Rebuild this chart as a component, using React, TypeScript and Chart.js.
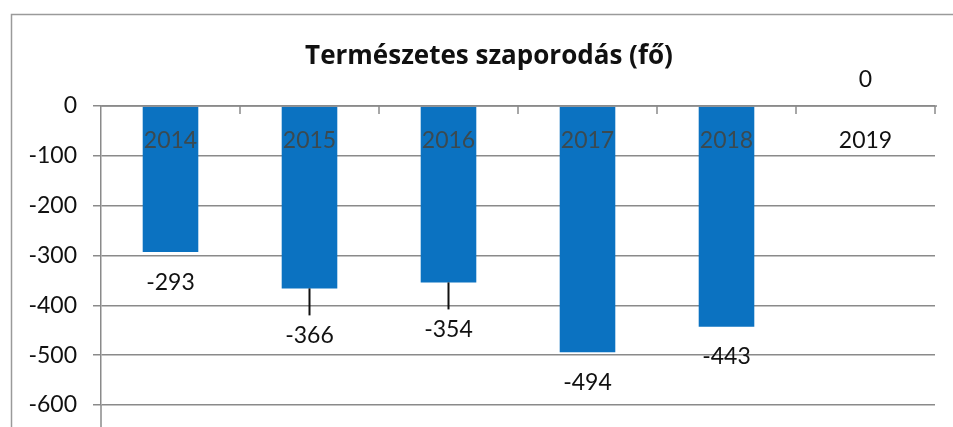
import React, { useEffect, useRef } from "react";
import { Chart, registerables } from "chart.js";

Chart.register(...registerables);

const title = "Természetes szaporodás (fő)";
const years = ["2014", "2015", "2016", "2017", "2018", "2019"];
const values = [-293, -366, -354, -494, -443, 0];
const yTicks = [0, -100, -200, -300, -400, -500, -600];

// label placement (style): baseline offset of value label from bar end, and leader line flag
const labelOffsets = [38, 55, 55, 38, 37, -19];
const leaderLines = [false, true, true, false, false, false];

const FONT = "Lato, 'Open Sans', sans-serif";
const TITLE_FONT = "'Open Sans', Lato, sans-serif";
const BAR = "#0B72C1";
const GRID = "#8a8a8a";

const overlay = {
  id: "overlay",
  beforeDraw(chart: any) {
    const { ctx, width, height } = chart;
    ctx.save();
    ctx.fillStyle = "#ffffff";
    ctx.fillRect(0, 0, width, height);
    ctx.strokeStyle = "#9a9a9a";
    ctx.lineWidth = 1.5;
    ctx.strokeRect(11.5, 14.5, width + 20, height + 20);
    // title
    ctx.fillStyle = "#111";
    ctx.font = `bold 26px ${TITLE_FONT}`;
    ctx.textAlign = "center";
    ctx.textBaseline = "alphabetic";
    ctx.fillText(title, 489, 64);
    ctx.restore();
  },
  afterDatasetsDraw(chart: any) {
    const { ctx, chartArea } = chart;
    const x = chart.scales.x;
    const y = chart.scales.y;
    const n = years.length;
    const cw = (chartArea.right - chartArea.left) / n;
    const zeroY = y.getPixelForValue(0);
    ctx.save();
    // zero axis line and category ticks
    ctx.strokeStyle = GRID;
    ctx.lineWidth = 1.5;
    ctx.beginPath();
    ctx.moveTo(chartArea.left, zeroY);
    ctx.lineTo(chartArea.right + 2, zeroY);
    for (let i = 1; i <= n; i++) {
      const bx = chartArea.left + i * cw;
      ctx.moveTo(bx, zeroY);
      ctx.lineTo(bx, zeroY + 8);
    }
    ctx.moveTo(chartArea.left, chartArea.bottom);
    ctx.lineTo(chartArea.left, chart.height);
    ctx.stroke();

    ctx.font = `23px ${FONT}`;
    ctx.textAlign = "center";
    ctx.textBaseline = "alphabetic";
    for (let i = 0; i < n; i++) {
      const cx = x.getPixelForValue(i);
      // category label just under the zero line
      ctx.fillStyle = values[i] < 0 ? "#3b4a50" : "#111";
      ctx.fillText(years[i], cx, zeroY + 42);
      // value label
      const endY = y.getPixelForValue(values[i]);
      const ly = endY + labelOffsets[i];
      ctx.fillStyle = "#111";
      ctx.fillText(String(values[i]), cx, ly);
      if (leaderLines[i]) {
        ctx.strokeStyle = "#111";
        ctx.lineWidth = 2;
        ctx.beginPath();
        ctx.moveTo(cx, endY);
        ctx.lineTo(cx, ly - 28);
        ctx.stroke();
      }
    }
    ctx.restore();
  },
};

export default function App() {
  const ref = useRef<HTMLCanvasElement>(null);
  useEffect(() => {
    document.body.style.margin = "0";
    const chart = new Chart(ref.current!, {
      type: "bar",
      data: {
        labels: years,
        datasets: [
          {
            data: values,
            backgroundColor: BAR,
            borderWidth: 0,
            barPercentage: 0.4,
            categoryPercentage: 1,
          },
        ],
      },
      options: {
        animation: false,
        responsive: false,
        layout: { autoPadding: false, padding: { top: 106, left: 0, right: 18, bottom: 22 } },
        plugins: {
          legend: { display: false },
          title: { display: false },
          tooltip: { enabled: false },
        },
        scales: {
          x: { display: false },
          y: {
            min: -600,
            max: 0,
            afterFit: (s: any) => {
              s.width = 101;
              s.paddingTop = 0;
              s.paddingBottom = 0;
            },
            afterBuildTicks: (s: any) => {
              s.ticks = yTicks.map((v) => ({ value: v }));
            },
            ticks: {
              padding: 16,
              color: "#111",
              font: { family: FONT, size: 23 },
            },
            grid: { color: GRID, lineWidth: 1.5, tickLength: 8 },
            border: { color: GRID, width: 1.5 },
          },
        },
      },
      plugins: [overlay],
    });
    return () => chart.destroy();
  }, []);
  return <canvas ref={ref} width={953} height={427} style={{ display: "block" }} />;
}
